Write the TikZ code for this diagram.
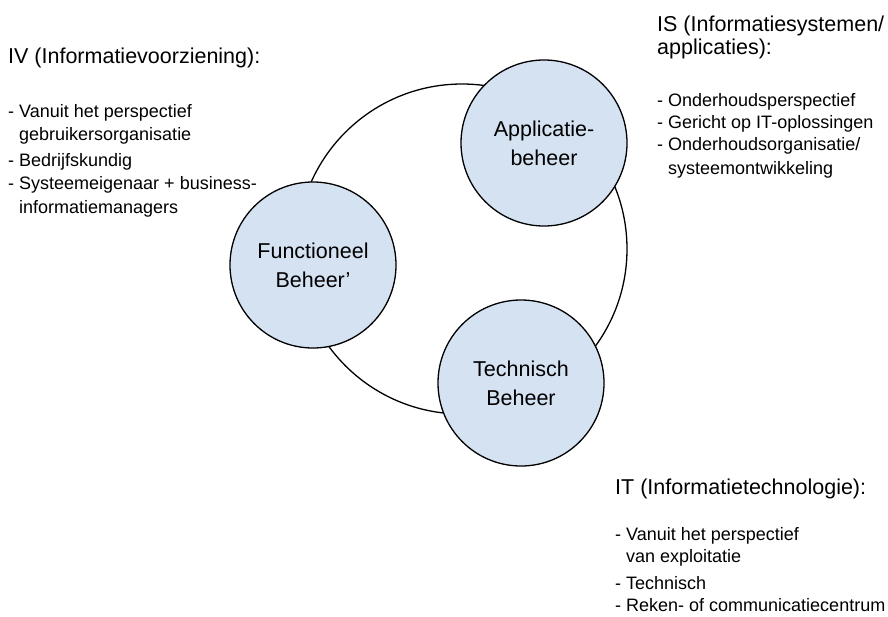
\documentclass[tikz,border=0pt]{standalone}
\usepackage{fontspec}
\setmainfont{Liberation Sans}
\definecolor{beheerblue}{HTML}{D5E2F2}
\tikzset{
  beheercircle/.style={circle, draw=black, line width=1.3pt, fill=beheerblue, minimum size=166pt,
    inner sep=0pt, align=center, font=\fontsize{21.5}{29}\selectfont},
  headtext/.style={anchor=base west, inner sep=0pt, align=left, font=\fontsize{21.5}{23}\selectfont},
  itemtext/.style={anchor=base west, inner sep=0pt, align=left, font=\fontsize{18}{23.5}\selectfont}
}
\newcommand{\ind}{\phantom{- }}
\begin{document}
\begin{tikzpicture}[x=1pt, y=-1pt]
    \useasboundingbox (0,0) rectangle (888,616);

    % ring behind the three domains
    \draw[line width=1.3pt] (462,249) circle [radius=165];

    \node[beheercircle] (app) at (544,143) {Applicatie-\\beheer};
    \node[beheercircle] (func) at (313,265) {Functioneel\\Beheer'};
    \node[beheercircle] (tech) at (521,383) {Technisch\\Beheer};

    % IV (base = last line)
    \node[headtext] (ivhead) at (8,63) {IV (Informatievoorziening):};
    \node[itemtext] (ivlist) at (8,213) {- Vanuit het perspectief\\
      \ind gebruikersorganisatie\\[2pt]
      - Bedrijfskundig\\
      - Systeemeigenaar + business-\\
      \ind informatiemanagers};

    % IS
    \node[headtext] (ishead) at (657,54) {IS (Informatiesystemen/\\applicaties):};
    \node[itemtext, font=\fontsize{18}{22}\selectfont] (islist) at (657,174) {- Onderhoudsperspectief\\
      - Gericht op IT-oplossingen\\
      - Onderhoudsorganisatie/\\[2pt]
      \ind systeemontwikkeling};

    % IT
    \node[headtext] (ithead) at (615,494) {IT (Informatietechnologie):};
    \node[itemtext, font=\fontsize{18}{22}\selectfont] (itlist) at (615,611) {- Vanuit het perspectief\\
      \ind van exploitatie\\[5pt]
      - Technisch\\
      - Reken- of communicatiecentrum};
\end{tikzpicture}
\end{document}
